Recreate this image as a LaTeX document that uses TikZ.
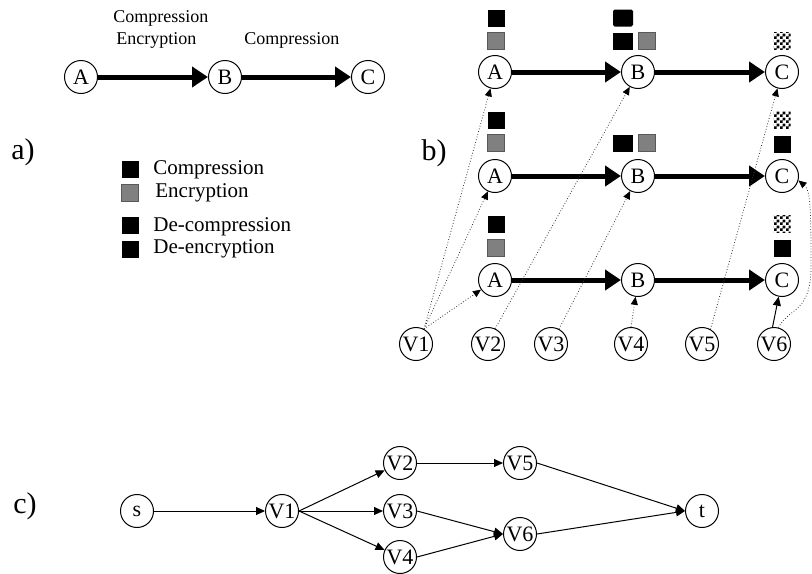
\documentclass[tikz,border=0pt]{standalone}
\usepackage{fontspec}
\setmainfont{Liberation Serif}
\usetikzlibrary{arrows.meta,patterns}
\pgfdeclarepatternformonly{finechecker}{\pgfpointorigin}{\pgfqpoint{3pt}{3pt}}{\pgfqpoint{3pt}{3pt}}{%
	\pgfpathrectangle{\pgfpointorigin}{\pgfqpoint{1.5pt}{1.5pt}}%
	\pgfpathrectangle{\pgfqpoint{1.5pt}{1.5pt}}{\pgfqpoint{1.5pt}{1.5pt}}%
	\pgfusepath{fill}}
\tikzset{
	vtx/.style={circle, draw, line width=0.5pt, minimum size=16.5pt, inner sep=0pt, font=\fontsize{11}{13}\selectfont},
	flow/.style={line width=2.5pt, -{Triangle[length=8pt,width=10pt]}},
	link/.style={line width=0.5pt, -{Triangle[length=4.5pt,width=4pt]}},
	dlink/.style={densely dotted, line width=0.4pt, black!80, -{Triangle[length=4pt,width=3.5pt,black]}},
	lbl/.style={inner sep=0pt, align=left, font=\fontsize{9}{11}\selectfont},
	leg/.style={inner sep=0pt, anchor=west, font=\fontsize{10.5}{12}\selectfont},
	part/.style={inner sep=0pt, font=\fontsize{15}{17}\selectfont},
	comp/.style={fill=black},
	enc/.style={fill=black!50, draw=black!65, line width=0.4pt},
	dec/.style={pattern=finechecker, pattern color=black},
}
\def\opsq[#1](#2,#3){\path[#1] (#2-8.5,#3-8.5) rectangle (#2+8.5,#3+8.5);}
\def\widesq[#1](#2,#3){\path[#1] (#2-10,#3-8.5) rectangle (#2+10,#3+8.5);}

\begin{document}
\begin{tikzpicture}[x=0.5pt,y=-0.5pt]
			%%%%% START %%%%%
			\useasboundingbox (0,0) rectangle (812,573);
			
			%%%%% a) %%%%%
			\node[part] (pa) at (23,152) {a)};
			\node[vtx] (aA) at (81,77) {A};
			\node[vtx] (aB) at (225,77) {B};
			\node[vtx] (aC) at (368,77) {C};
			\draw[flow] (aA) -- (aB);
			\draw[flow] (aB) -- (aC);
			\node[lbl, anchor=west] (aLab1) at (113,29) {Compression\\\,Encryption};
			\node[lbl, anchor=west] (aLab2) at (244,40) {Compression};
			
			% legend
			\opsq[comp](130,169)
			\opsq[enc](130,193)
			\opsq[comp](130,225)
			\opsq[comp](130,249)
			\node[leg] (lComp) at (153,170) {Compression};
			\node[leg] (lEnc) at (155,193) {Encryption};
			\node[leg] (lDcomp) at (153,227) {De-compression};
			\node[leg] (lDenc) at (153,249) {De-encryption};
			
			%%%%% b) %%%%%
			\node[part] (pb) at (434,153) {b)};
			\node[vtx] (bA1) at (495,72) {A};
			\node[vtx] (bB1) at (638,72) {B};
			\node[vtx] (bC1) at (782,72) {C};
			\node[vtx] (bA2) at (495,176) {A};
			\node[vtx] (bB2) at (638,176) {B};
			\node[vtx] (bC2) at (782,176) {C};
			\node[vtx] (bA3) at (495,280) {A};
			\node[vtx] (bB3) at (638,280) {B};
			\node[vtx] (bC3) at (782,280) {C};
			\draw[flow] (bA1) -- (bB1);
			\draw[flow] (bB1) -- (bC1);
			\draw[flow] (bA2) -- (bB2);
			\draw[flow] (bB2) -- (bC2);
			\draw[flow] (bA3) -- (bB3);
			\draw[flow] (bB3) -- (bC3);
			
			\opsq[comp](496,18)
			\opsq[enc](496,41)
			\widesq[comp, rounded corners=0.8pt](623,18)
			\widesq[comp](623,41)
			\opsq[enc](647,41)
			\opsq[dec](782,41)
			
			\opsq[comp](496,120)
			\opsq[enc](496,143)
			\widesq[comp](623,143)
			\opsq[enc](647,143)
			\opsq[dec](782,120)
			\opsq[comp](782,144)
			
			\opsq[comp](496,224)
			\opsq[enc](496,248)
			\opsq[dec](782,224)
			\opsq[comp](782,248)
			
			\node[vtx] (bV1) at (416,344) {V1};
			\node[vtx] (bV2) at (488,344) {V2};
			\node[vtx] (bV3) at (551,344) {V3};
			\node[vtx] (bV4) at (631,344) {V4};
			\node[vtx] (bV5) at (702,344) {V5};
			\node[vtx] (bV6) at (774,344) {V6};
			
			\draw[dlink] (bV1.62) -- (bA1);
			\draw[dlink] (bV1.62) -- (bA2);
			\draw[dlink] (bV1.62) -- (bA3);
			\draw[dlink] (bV2.65) -- (bB1);
			\draw[dlink] (bV3.62) -- (bB2);
			\draw[dlink] (bV4.north) -- (bB3);
			\draw[dlink] (bV5.60) -- (bC1);
			\draw[link] (bV6.95) -- (bC3);
			\draw[dlink] (bV6.75) .. controls (790,306) and (812,314) .. (811,262) .. controls (811,205) and (810,190) .. (bC2.-15);
			
			%%%%% c) %%%%%
			\node[part] (pc) at (25,506) {c)};
			\node[vtx] (cs) at (137,511) {s};
			\node[vtx] (cV1) at (282,511) {V1};
			\node[vtx] (cV2) at (400,463) {V2};
			\node[vtx] (cV3) at (400,511) {V3};
			\node[vtx] (cV4) at (400,557) {V4};
			\node[vtx] (cV5) at (520,463) {V5};
			\node[vtx] (cV6) at (520,534) {V6};
			\node[vtx] (ct) at (702,511) {t};
			\draw[link] (cs) -- (cV1);
			\draw[link] (cV1.east) -- (cV2);
			\draw[link] (cV1.east) -- (cV3);
			\draw[link] (cV1.east) -- (cV4);
			\draw[link] (cV2) -- (cV5);
			\draw[link] (cV3.east) -- (cV6.west);
			\draw[link] (cV4.east) -- (cV6.west);
			\draw[link] (cV5.east) -- (ct.west);
			\draw[link] (cV6.east) -- (ct.west);
			
			%%%%% END %%%%%
\end{tikzpicture}
\end{document}
